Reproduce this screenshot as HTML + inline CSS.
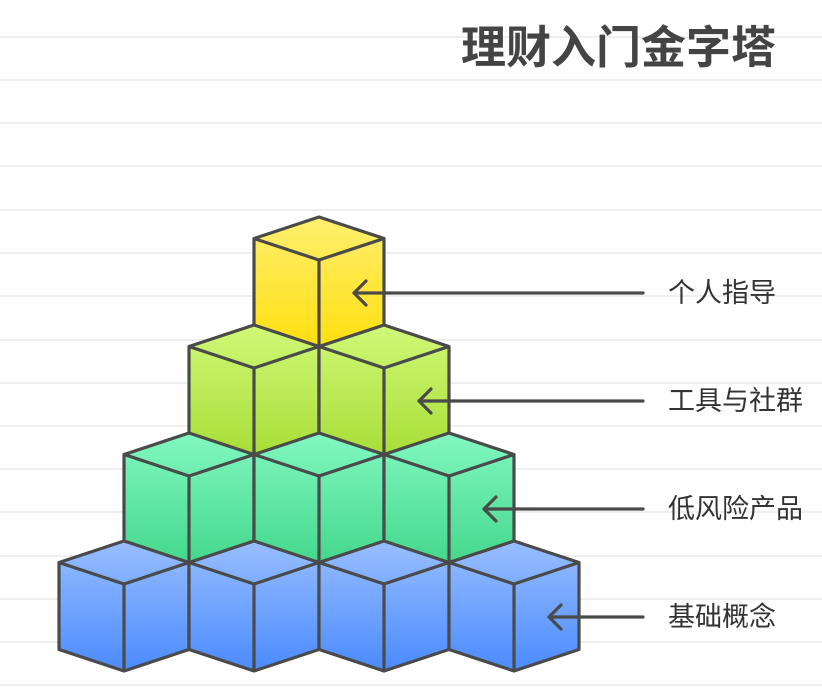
<!DOCTYPE html>
<html><head><meta charset="utf-8"><style>
html,body{margin:0;padding:0;background:#fff;}
svg{display:block;}
</style></head><body>
<svg width="822" height="693" viewBox="0 0 822 693" xmlns="http://www.w3.org/2000/svg">
<defs>
<linearGradient id="gy" x1="0" y1="0" x2="0" y2="1"><stop offset="0" stop-color="#ffef70"/><stop offset="1" stop-color="#ffdf0f"/></linearGradient>
<linearGradient id="gg" x1="0" y1="0" x2="0" y2="1"><stop offset="0" stop-color="#d0f877"/><stop offset="1" stop-color="#a8de38"/></linearGradient>
<linearGradient id="gt" x1="0" y1="0" x2="0" y2="1"><stop offset="0" stop-color="#82f8c2"/><stop offset="1" stop-color="#44d88c"/></linearGradient>
<linearGradient id="gb" x1="0" y1="0" x2="0" y2="1"><stop offset="0" stop-color="#98beff"/><stop offset="1" stop-color="#4b8bff"/></linearGradient>
<g id="lines" fill="none" stroke="#4a4a4a" stroke-width="3.2" stroke-linejoin="round">
<path d="M0 0 L65 21.5 L65 108.5 L0 130 L-65 108.5 L-65 21.5 Z"/>
<path d="M-65 21.5 L0 43 L65 21.5 M0 43 L0 130"/>
</g>
<g id="cy"><path d="M0 0 L65 21.5 L65 108.5 L0 130 L-65 108.5 L-65 21.5 Z" fill="url(#gy)"/><use href="#lines"/></g>
<g id="cg"><path d="M0 0 L65 21.5 L65 108.5 L0 130 L-65 108.5 L-65 21.5 Z" fill="url(#gg)"/><use href="#lines"/></g>
<g id="ct"><path d="M0 0 L65 21.5 L65 108.5 L0 130 L-65 108.5 L-65 21.5 Z" fill="url(#gt)"/><use href="#lines"/></g>
<g id="cb"><path d="M0 0 L65 21.5 L65 108.5 L0 130 L-65 108.5 L-65 21.5 Z" fill="url(#gb)"/><use href="#lines"/></g>
</defs>
<g stroke="#efefef" stroke-width="2">
<line x1="0" y1="37" x2="822" y2="37"/><line x1="0" y1="80" x2="822" y2="80"/>
<line x1="0" y1="123" x2="822" y2="123"/><line x1="0" y1="166" x2="822" y2="166"/>
<line x1="0" y1="210" x2="822" y2="210"/><line x1="0" y1="253" x2="822" y2="253"/>
<line x1="0" y1="296" x2="822" y2="296"/><line x1="0" y1="340" x2="822" y2="340"/>
<line x1="0" y1="383" x2="822" y2="383"/><line x1="0" y1="426" x2="822" y2="426"/>
<line x1="0" y1="469" x2="822" y2="469"/><line x1="0" y1="512" x2="822" y2="512"/>
<line x1="0" y1="556" x2="822" y2="556"/><line x1="0" y1="599" x2="822" y2="599"/>
<line x1="0" y1="642" x2="822" y2="642"/><line x1="0" y1="685" x2="822" y2="685"/>
</g>
<text x="776" y="63" text-anchor="end" font-family="Liberation Sans, Noto Sans CJK SC, sans-serif" font-size="45" font-weight="bold" fill="#444">理财入门金字塔</text>
<use href="#cy" x="319" y="217"/>
<use href="#cg" x="254" y="325"/><use href="#cg" x="384" y="325"/>
<use href="#ct" x="189" y="433"/><use href="#ct" x="319" y="433"/><use href="#ct" x="449" y="433"/>
<use href="#cb" x="124" y="541"/><use href="#cb" x="254" y="541"/><use href="#cb" x="384" y="541"/><use href="#cb" x="514" y="541"/>
<g fill="none" stroke="#4a4a4a" stroke-width="3.2" stroke-linecap="round" stroke-linejoin="round">
<path d="M643 293 L354 293 M366 281 L354 293 L366 305"/>
<path d="M643 401 L419 401 M431 389 L419 401 L431 413"/>
<path d="M643 509 L484 509 M496 497 L484 509 L496 521"/>
<path d="M643 617 L549 617 M561 605 L549 617 L561 629"/>
</g>
<g font-family="Liberation Sans, Noto Sans CJK SC, sans-serif" font-size="27" fill="#333">
<text x="668" y="302">个人指导</text>
<text x="668" y="410">工具与社群</text>
<text x="668" y="518">低风险产品</text>
<text x="668" y="626">基础概念</text>
</g>
</svg>
</body></html>
